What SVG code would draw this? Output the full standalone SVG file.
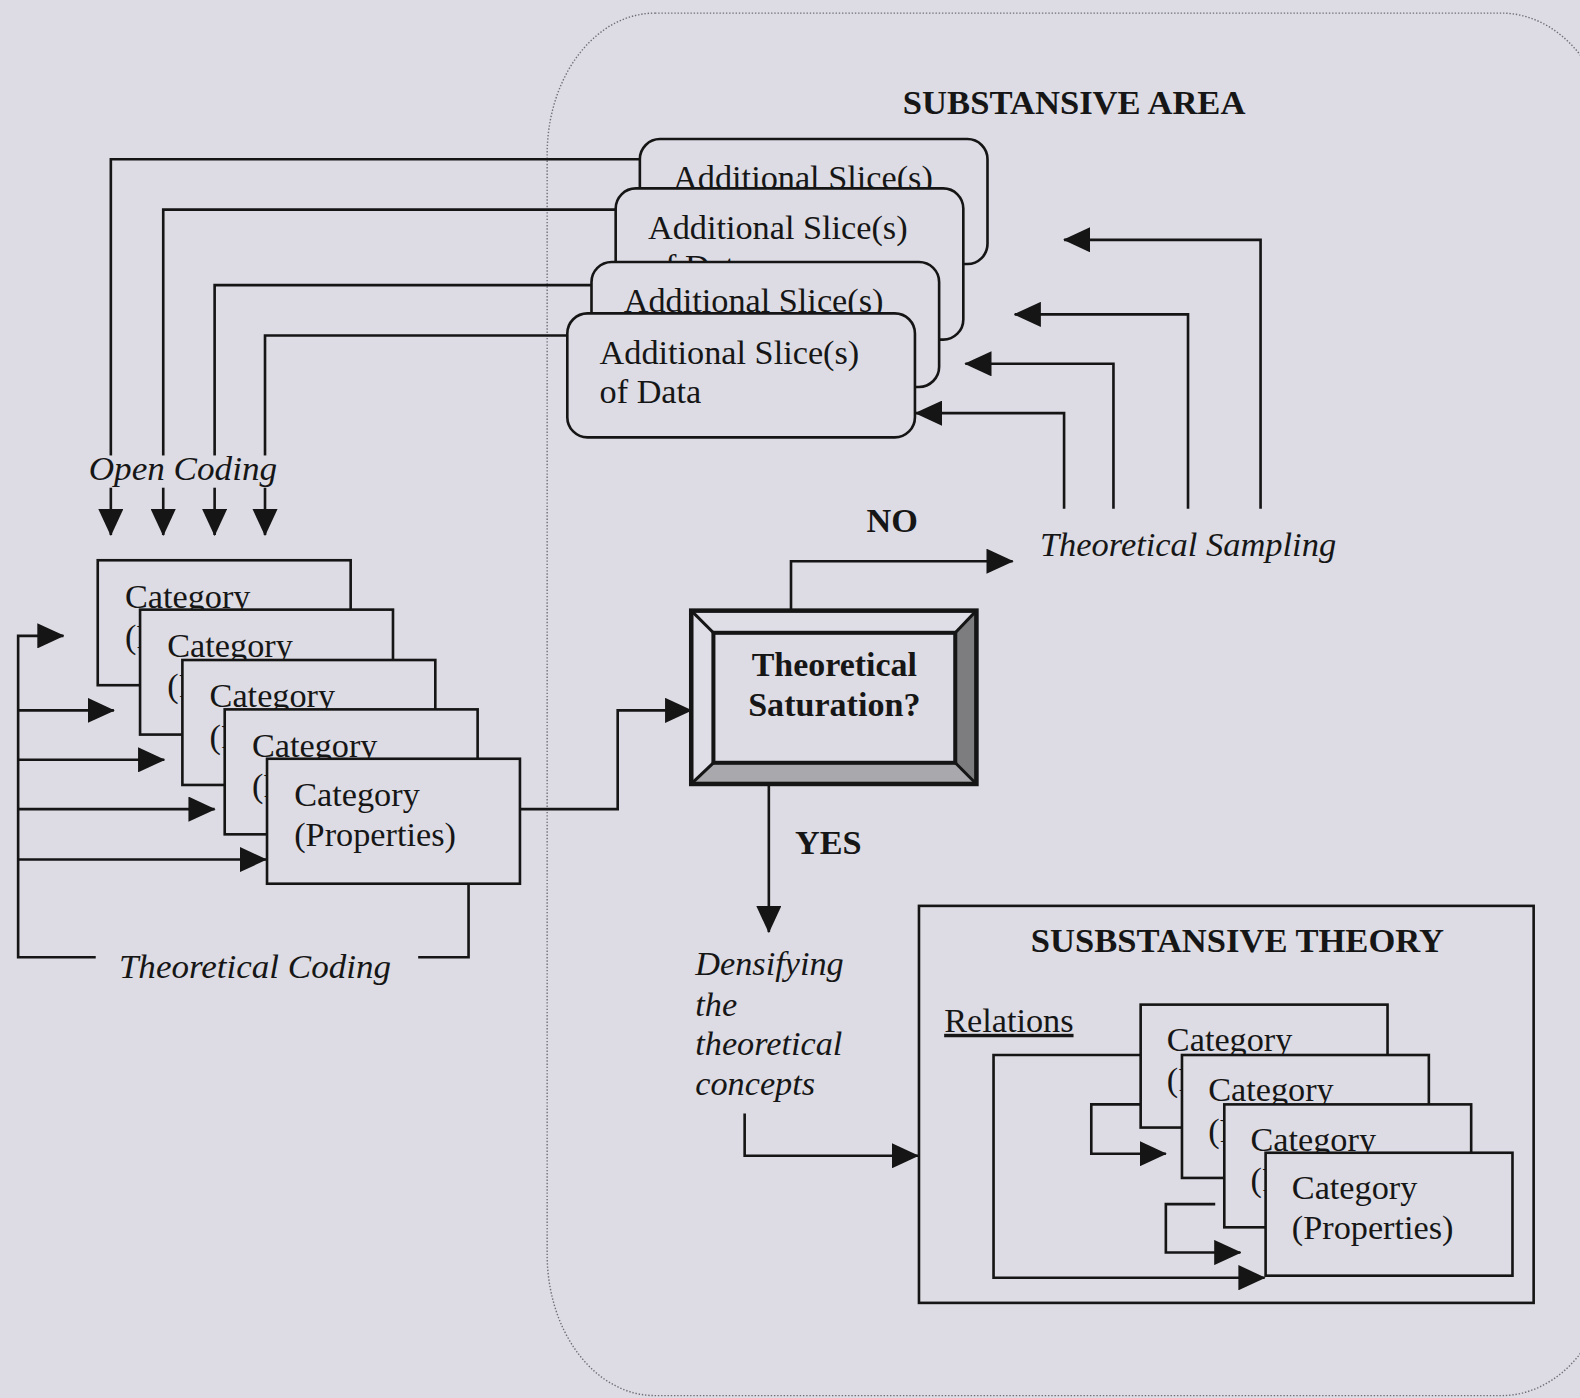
<svg xmlns="http://www.w3.org/2000/svg" width="1580" height="1398" viewBox="0 0 1580 1398">
  <defs>
    <marker id="ah" markerUnits="userSpaceOnUse" markerWidth="27" markerHeight="25" refX="26" refY="12.5" orient="auto" viewBox="0 0 27 25">
      <path d="M0,0 L27,12.5 L0,25 z" fill="#151515"/>
    </marker>
    <style>
      .ln { fill: none; stroke: #151515; stroke-width: 2.6; }
      .arr { marker-end: url(#ah); }
      .box { fill: #dddce4; stroke: #151515; stroke-width: 2.6; }
      .t { font-family: "Liberation Serif", "Times New Roman", serif; font-size: 34px; fill: #161616; }
      .b { font-weight: bold; }
      .i { font-style: italic; }
      .patch { fill: #dddce4; stroke: none; }
    </style>
  </defs>

  <rect width="1580" height="1398" fill="#dddce4"/>

  <g transform="scale(1.00765)">
    <!-- dotted outline of the substantive area -->
    <path d="M650,13 H1490 A110,140 0 0 1 1600,153 V1245 A110,140 0 0 1 1490,1385 H650 A107,140 0 0 1 543,1245 V153 A107,140 0 0 1 650,13 Z"
          fill="none" stroke="#6f6f78" stroke-width="1.4" stroke-dasharray="1.4 1.8"/>

    <text id="area-title" class="t b" x="896" y="113" textLength="340" lengthAdjust="spacingAndGlyphs">SUBSTANSIVE AREA</text>

    <!-- connectors -->
    <g id="connectors">
      <!-- open coding: slices down to categories -->
      <path class="ln arr" d="M635,158 H110 V531"/>
      <path class="ln arr" d="M611,208 H162 V531"/>
      <path class="ln arr" d="M587,283 H213 V531"/>
      <path class="ln arr" d="M563,333 H263 V531"/>

      <!-- theoretical coding loop -->
      <path class="ln" d="M465,877 V950 H415"/>
      <path class="ln arr" d="M95,950 H18 V631 H63"/>
      <path class="ln arr" d="M18,705 H113"/>
      <path class="ln arr" d="M18,754 H163"/>
      <path class="ln arr" d="M18,803 H213"/>
      <path class="ln arr" d="M18,853 H264"/>

      <!-- categories to saturation check -->
      <path class="ln arr" d="M516,803 H613 V705 H686"/>

      <!-- NO branch -->
      <path class="ln arr" d="M785,606 V557 H1005"/>

      <!-- theoretical sampling back to slices -->
      <path class="ln arr" d="M1056,505 V410 H909"/>
      <path class="ln arr" d="M1105,505 V361 H958"/>
      <path class="ln arr" d="M1179,505 V312 H1007"/>
      <path class="ln arr" d="M1251,505 V238 H1056"/>

      <!-- YES branch -->
      <path class="ln arr" d="M763,778 V925"/>

      <!-- densifying into theory -->
      <path class="ln arr" d="M739,1105 V1147 H911"/>

      <!-- relations inside theory -->
      <path class="ln arr" d="M1132,1047 H986 V1268 H1255"/>
      <path class="ln arr" d="M1132,1096 H1083 V1145 H1157"/>
      <path class="ln arr" d="M1206,1195 H1157 V1243 H1231"/>
    </g>

    <!-- additional slices of data -->
    <g id="slice1">
      <rect class="box" x="635" y="138" width="345" height="124" rx="20"/>
      <text class="t" x="668" y="188">Additional Slice(s)</text>
      <text class="t" x="668" y="227">of Data</text>
    </g>
    <g id="slice2">
      <rect class="box" x="611" y="187" width="345" height="150" rx="20"/>
      <text class="t" x="643" y="237">Additional Slice(s)</text>
      <text class="t" x="643" y="276">of Data</text>
    </g>
    <g id="slice3">
      <rect class="box" x="587" y="260" width="345" height="124" rx="20"/>
      <text class="t" x="619" y="310">Additional Slice(s)</text>
      <text class="t" x="619" y="349">of Data</text>
    </g>
    <g id="slice4">
      <rect class="box" x="563" y="311" width="345" height="123" rx="20"/>
      <text class="t" x="595" y="361">Additional Slice(s)</text>
      <text class="t" x="595" y="400">of Data</text>
    </g>

    <!-- labels -->
    <g id="open-coding">
      <rect class="patch" x="86" y="452" width="192" height="32"/>
      <text class="t i" x="88" y="476" textLength="187" lengthAdjust="spacingAndGlyphs">Open Coding</text>
    </g>
    <text id="theoretical-coding" class="t i" x="118" y="971" textLength="270" lengthAdjust="spacingAndGlyphs">Theoretical Coding</text>
    <text id="theoretical-sampling" class="t i" x="1032" y="552" textLength="294" lengthAdjust="spacingAndGlyphs">Theoretical Sampling</text>
    <text id="no-label" class="t b" x="860" y="528">NO</text>
    <text id="yes-label" class="t b" x="789" y="848">YES</text>
    <g id="densifying">
      <text class="t i" x="690" y="968">Densifying</text>
      <text class="t i" x="690" y="1008">the</text>
      <text class="t i" x="690" y="1047">theoretical</text>
      <text class="t i" x="690" y="1087">concepts</text>
    </g>

    <!-- categories -->
    <g id="cat1">
      <rect class="box" x="97" y="556" width="251" height="124"/>
      <text class="t" x="124" y="603">Category</text>
      <text class="t" x="124" y="643">(Properties)</text>
    </g>
    <g id="cat2">
      <rect class="box" x="139" y="605" width="251" height="124"/>
      <text class="t" x="166" y="652">Category</text>
      <text class="t" x="166" y="692">(Properties)</text>
    </g>
    <g id="cat3">
      <rect class="box" x="181" y="655" width="251" height="124"/>
      <text class="t" x="208" y="702">Category</text>
      <text class="t" x="208" y="742">(Properties)</text>
    </g>
    <g id="cat4">
      <rect class="box" x="223" y="704" width="251" height="124"/>
      <text class="t" x="250" y="751">Category</text>
      <text class="t" x="250" y="791">(Properties)</text>
    </g>
    <g id="cat5">
      <rect class="box" x="265" y="753" width="251" height="124"/>
      <text class="t" x="292" y="800">Category</text>
      <text class="t" x="292" y="840">(Properties)</text>
    </g>

    <!-- saturation decision -->
    <g id="saturation">
      <rect x="686" y="606" width="283" height="172" fill="#dfdee6"/>
      <polygon points="948,628 969,606 969,778 948,757" fill="#7d7d80"/>
      <polygon points="708,757 948,757 969,778 686,778" fill="#a9a9ad"/>
      <g stroke="#151515" stroke-width="3" fill="none">
        <line x1="686" y1="606" x2="708" y2="628"/>
        <line x1="969" y1="606" x2="948" y2="628"/>
        <line x1="686" y1="778" x2="708" y2="757"/>
        <line x1="969" y1="778" x2="948" y2="757"/>
      </g>
      <rect x="708" y="628" width="240" height="129" fill="#dddce4" stroke="#151515" stroke-width="4"/>
      <rect x="686" y="606" width="283" height="172" fill="none" stroke="#151515" stroke-width="4.5"/>
      <text class="t b" x="828" y="671" text-anchor="middle" font-size="31" textLength="164" lengthAdjust="spacingAndGlyphs">Theoretical</text>
      <text class="t b" x="828" y="711" text-anchor="middle" font-size="31" textLength="171" lengthAdjust="spacingAndGlyphs">Saturation?</text>
    </g>

    <!-- substantive theory -->
    <g id="theory">
      <rect x="912" y="899" width="610" height="394" fill="none" stroke="#151515" stroke-width="2.6"/>
      <text class="t b" x="1023" y="945" textLength="410" lengthAdjust="spacingAndGlyphs">SUSBSTANSIVE THEORY</text>
      <text class="t" x="937" y="1024" text-decoration="underline">Relations</text>
    </g>
    <g id="theory-cat1">
      <rect class="box" x="1132" y="997" width="245" height="122"/>
      <text class="t" x="1158" y="1043">Category</text>
      <text class="t" x="1158" y="1083">(Properties)</text>
    </g>
    <g id="theory-cat2">
      <rect class="box" x="1173" y="1047" width="245" height="122"/>
      <text class="t" x="1199" y="1093">Category</text>
      <text class="t" x="1199" y="1133">(Properties)</text>
    </g>
    <g id="theory-cat3">
      <rect class="box" x="1215" y="1096" width="245" height="122"/>
      <text class="t" x="1241" y="1142">Category</text>
      <text class="t" x="1241" y="1182">(Properties)</text>
    </g>
    <g id="theory-cat4">
      <rect class="box" x="1256" y="1144" width="245" height="122"/>
      <text class="t" x="1282" y="1190">Category</text>
      <text class="t" x="1282" y="1230">(Properties)</text>
    </g>
  </g>
</svg>
